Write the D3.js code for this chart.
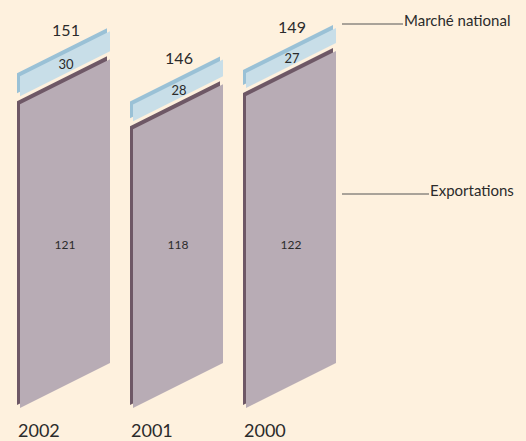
<!DOCTYPE html>
<html>
<head>
<meta charset="utf-8">
<script src="https://cdn.jsdelivr.net/npm/d3@7"></script>
<style>
  body { margin: 0; background: #fef1de; }
  svg { display: block; font-family: Lato, "Open Sans", sans-serif; }
</style>
</head>
<body>
<div id="chart"></div>
<script>
/**
 * Data
 */
const years = ["2002", "2001", "2000"];
const national = [30, 28, 27];
const exportations = [121, 118, 122];
const totals = [151, 146, 149];
const seriesNames = ["Marché national", "Exportations"];

/**
 * Globals
 */
const width = 526;
const height = 441;
const baseY = 408;     // bottom-left of the front faces
const skew = 0.5;      // rise of the top/bottom edges per px
const gap = 8;         // cream gap between the two segments
const depth = 3;       // offset of the dark edge

const color = {
  bg: "#fef1de",
  expFace: "#b8acb5",
  expEdge: "#6e5866",
  natFace: "#c8dee8",
  natEdge: "#9ac1d6",
  text: "#2b2b2b",
};

var scale = {
  x: d3.scaleBand().domain(years).range([20, 336]).paddingInner(23 / 113),
  // the printed chart uses truncated, separate value axes per segment
  exp: d3.scaleLinear().domain([84.5, 122]).range([0, 312]),
  nat: d3.scaleLinear().domain([18, 30]).range([0, 20]),
};

var svg = d3
  .select("#chart")
  .append("svg")
  .attr("width", width)
  .attr("height", height);

svg.append("rect").attr("width", width).attr("height", height).attr("fill", color.bg);

// skewed panel: left x, top-left y, bottom-left y
function panel(x, yt, yb) {
  var w = scale.x.bandwidth();
  var r = w * skew;
  return "M" + x + "," + yt + "L" + (x + w) + "," + (yt - r) +
    "L" + (x + w) + "," + (yb - r) + "L" + x + "," + yb + "Z";
}

var rows = years.map(function (y, i) {
  var x = scale.x(y);
  var expTop = baseY - scale.exp(exportations[i]);
  var natBot = expTop - gap;
  var natTop = natBot - scale.nat(national[i]);
  return { year: y, x: x, expTop: expTop, natBot: natBot, natTop: natTop, i: i };
});

var bars = svg.selectAll(".bar").data(rows).enter().append("g").attr("class", "bar");

// dark edges first, then faces
bars.append("path")
  .attr("d", function (d) { return panel(d.x - depth, d.expTop - depth, baseY - depth); })
  .attr("fill", color.expEdge);
bars.append("path")
  .attr("d", function (d) { return panel(d.x, d.expTop, baseY); })
  .attr("fill", color.expFace);
bars.append("path")
  .attr("d", function (d) { return panel(d.x - depth, d.natTop - depth, d.natBot - depth); })
  .attr("fill", color.natEdge);
bars.append("path")
  .attr("d", function (d) { return panel(d.x, d.natTop, d.natBot); })
  .attr("fill", color.natFace);

var half = scale.x.bandwidth() / 2;
var mid = half * skew;

// totals above each bar
bars.append("text")
  .attr("x", function (d) { return d.x + half + 1; })
  .attr("y", function (d) { return d.natTop - depth - mid - 15; })
  .attr("text-anchor", "middle")
  .attr("font-size", 16)
  .attr("fill", color.text)
  .text(function (d) { return totals[d.i]; });

// marché national value
bars.append("text")
  .attr("x", function (d) { return d.x + half + 1; })
  .attr("y", function (d) { return (d.natTop + d.natBot) / 2 - mid + 5; })
  .attr("text-anchor", "middle")
  .attr("font-size", 13)
  .attr("fill", color.text)
  .text(function (d) { return national[d.i]; });

// exportations value
bars.append("text")
  .attr("x", function (d) { return d.x + half; })
  .attr("y", 249)
  .attr("text-anchor", "middle")
  .attr("font-size", 12)
  .attr("fill", color.text)
  .text(function (d) { return exportations[d.i]; });

// years
bars.append("text")
  .attr("x", function (d) { return d.x - 2; })
  .attr("y", 437)
  .attr("font-size", 18)
  .attr("fill", color.text)
  .text(function (d) { return d.year; });

// legend callouts
var legend = [
  { name: seriesNames[0], y: 24, x1: 342, x2: 403 },
  { name: seriesNames[1], y: 194, x1: 342, x2: 429 },
];
var lg = svg.selectAll(".legend").data(legend).enter().append("g").attr("class", "legend");
lg.append("line")
  .attr("x1", function (d) { return d.x1; })
  .attr("x2", function (d) { return d.x2; })
  .attr("y1", function (d) { return d.y; })
  .attr("y2", function (d) { return d.y; })
  .attr("stroke", "#555")
  .attr("stroke-width", 1);
lg.append("text")
  .attr("x", function (d) { return d.x2 + 1; })
  .attr("y", function (d) { return d.y + 2; })
  .attr("font-size", 15)
  .attr("fill", color.text)
  .text(function (d) { return d.name; });
</script>
</body>
</html>
